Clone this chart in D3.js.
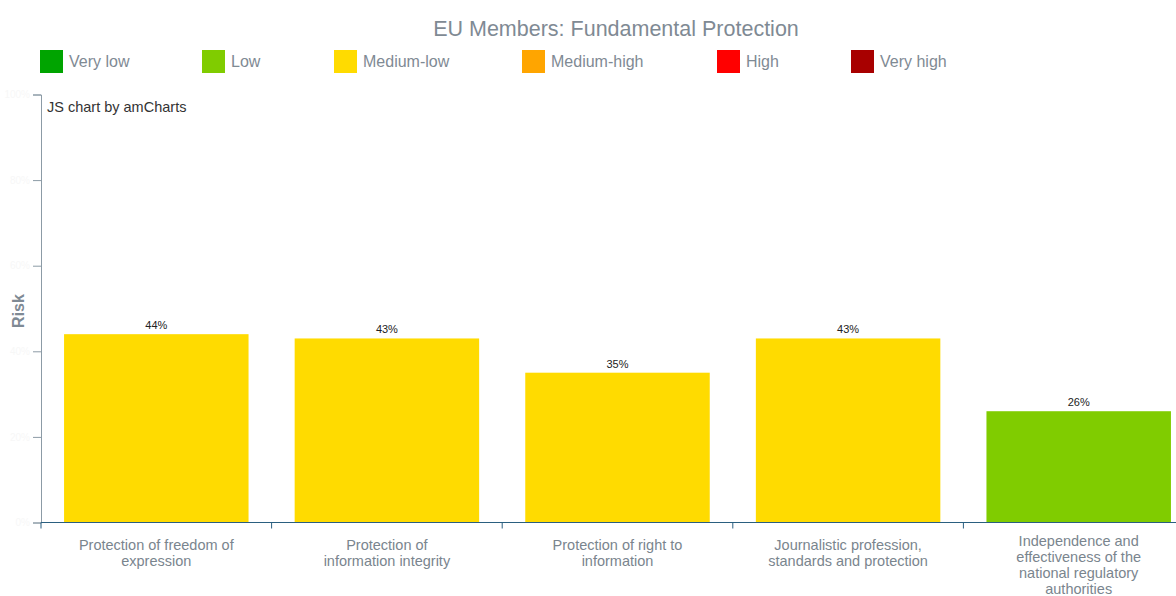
<!DOCTYPE html>
<html>
<head>
<meta charset="utf-8">
<script src="https://cdn.jsdelivr.net/npm/d3@7"></script>
<style>
  html, body { margin: 0; padding: 0; background: #fff; }
  svg { display: block; font-family: Arial, "Liberation Sans", sans-serif; }
</style>
</head>
<body>
<svg id="chart" width="1176" height="596"></svg>
<script>
// Risk scores per indicator (percent)
const categories = [
  "Protection of freedom of expression",
  "Protection of information integrity",
  "Protection of right to information",
  "Journalistic profession, standards and protection",
  "Independence and effectiveness of the national regulatory authorities"
];
const categoryLines = [
  ["Protection of freedom of", "expression"],
  ["Protection of", "information integrity"],
  ["Protection of right to", "information"],
  ["Journalistic profession,", "standards and protection"],
  ["Independence and", "effectiveness of the", "national regulatory", "authorities"]
];
const riskValues = [44, 43, 35, 43, 26];
const riskLevels = ["Medium-low", "Medium-low", "Medium-low", "Medium-low", "Low"];

const legendLabels = ["Very low", "Low", "Medium-low", "Medium-high", "High", "Very high"];
const legendColors = ["#00a400", "#80cc00", "#ffdb00", "#ffa500", "#ff0000", "#a80000"];
const yTicks = [0, 20, 40, 60, 80, 100];

const svg = d3.select("#chart");
const colorOf = d3.scaleOrdinal().domain(legendLabels).range(legendColors);

// Title
svg.append("text")
  .attr("x", 616).attr("y", 36)
  .attr("text-anchor", "middle")
  .attr("font-size", 21.5)
  .attr("fill", "#7f8a94")
  .text("EU Members: Fundamental Protection");

// Legend
const legendX = [40, 202, 334, 522, 717, 851];
const legend = svg.append("g");
legendLabels.forEach((lab, i) => {
  const g = legend.append("g").attr("transform", `translate(${legendX[i]},50)`);
  g.append("rect").attr("width", 23).attr("height", 23).attr("fill", colorOf(lab));
  g.append("text").attr("x", 29).attr("y", 17)
    .attr("font-size", 16).attr("fill", "#7f8a94").text(lab);
});

// Plot area
const plotLeft = 41, plotTop = 94.5, plotBottom = 522.5, band = 230.6;
const x = d3.scaleBand().domain(categories)
  .range([plotLeft, plotLeft + band * categories.length])
  .paddingInner(0.2).paddingOuter(0.1);
const y = d3.scaleLinear().domain([0, 100]).range([plotBottom, plotTop]);

// Y axis (tick labels drawn in white)
const yAxis = svg.append("g").attr("transform", `translate(${plotLeft},0)`)
  .call(d3.axisLeft(y).tickValues(yTicks).tickSize(8).tickFormat(d => d + "%"));
yAxis.select(".domain").attr("stroke", "#8c9ba6");
yAxis.selectAll(".tick line").attr("stroke", "#8c9ba6");
yAxis.selectAll(".tick text").attr("fill", "#f7f7f7").attr("font-size", 10);

// Bars
svg.append("g").selectAll("rect")
  .data(categories)
  .join("rect")
  .attr("x", d => x(d))
  .attr("width", x.bandwidth())
  .attr("y", (d, i) => y(riskValues[i]))
  .attr("height", (d, i) => y(0) - y(riskValues[i]))
  .attr("fill", (d, i) => colorOf(riskLevels[i]));

// Value labels
svg.append("g").selectAll("text")
  .data(categories)
  .join("text")
  .attr("x", d => x(d) + x.bandwidth() / 2)
  .attr("y", (d, i) => y(riskValues[i]) - 5)
  .attr("text-anchor", "middle")
  .attr("font-size", 11)
  .attr("fill", "#222")
  .text((d, i) => riskValues[i] + "%");

// X axis
const xAxisG = svg.append("g").attr("transform", `translate(0,${plotBottom})`);
xAxisG.append("line")
  .attr("x1", plotLeft).attr("x2", plotLeft + band * categories.length)
  .attr("stroke", "#2a5f80").attr("stroke-width", 1.2);
xAxisG.selectAll(".xtick")
  .data(d3.range(categories.length + 1))
  .join("line")
  .attr("x1", i => plotLeft + i * band).attr("x2", i => plotLeft + i * band)
  .attr("y1", 0).attr("y2", 6)
  .attr("stroke", "#2a5f80");

// Category labels
categories.forEach((c, i) => {
  const lines = categoryLines[i];
  const t = svg.append("text")
    .attr("x", x(c) + x.bandwidth() / 2)
    .attr("y", lines.length > 2 ? 546 : 550)
    .attr("text-anchor", "middle")
    .attr("font-size", 14.5)
    .attr("fill", "#7a858e");
  lines.forEach((line, j) => {
    t.append("tspan").attr("x", x(c) + x.bandwidth() / 2)
      .attr("dy", j === 0 ? 0 : 16).text(line);
  });
});

// Y axis title
svg.append("text")
  .attr("transform", "translate(24,311) rotate(-90)")
  .attr("text-anchor", "middle")
  .attr("font-size", 16)
  .attr("font-weight", "bold")
  .attr("fill", "#7f8a94")
  .text("Risk");

// Credit
svg.append("text")
  .attr("x", 47).attr("y", 112)
  .attr("font-size", 14.5)
  .attr("fill", "#333")
  .text("JS chart by amCharts");
</script>
</body>
</html>
